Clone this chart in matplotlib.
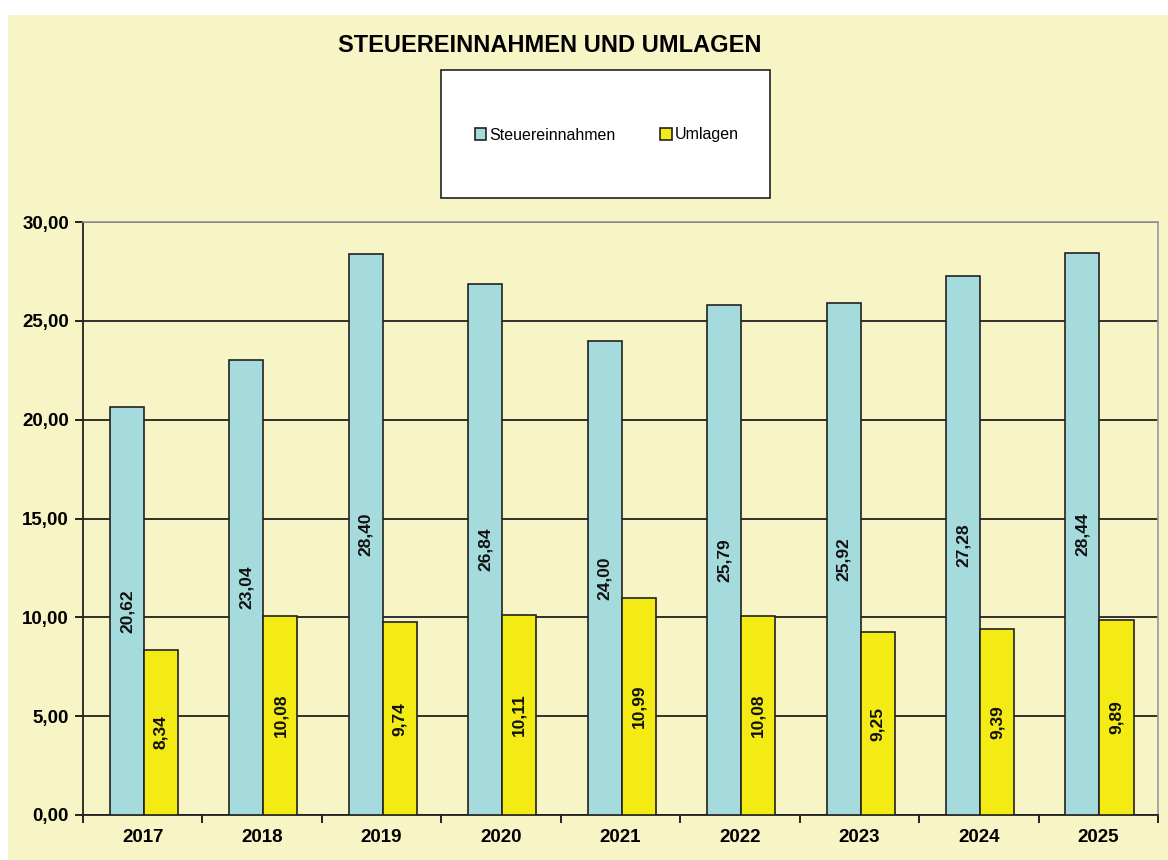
import numpy as np
import matplotlib
matplotlib.use('Agg')
import matplotlib.pyplot as plt
from matplotlib.patches import Rectangle

plt.rcParams['font.family'] = ['Liberation Sans', 'DejaVu Sans']

years = ['2017', '2018', '2019', '2020', '2021', '2022', '2023', '2024', '2025']
steuer = [20.62, 23.04, 28.40, 26.84, 24.00, 25.79, 25.92, 27.28, 28.44]
umlagen = [8.34, 10.08, 9.74, 10.11, 10.99, 10.08, 9.25, 9.39, 9.89]

bg = '#F7F5C6'
cyan = '#A5DBDD'
yellow = '#F4EA14'

fig = plt.figure(figsize=(11.68, 8.6), dpi=100, facecolor='white')
# yellow chart area (white strip at top and left)
fig.patches.append(Rectangle((8/1168, 0), 1 - 8/1168, 1 - 15/860, transform=fig.transFigure,
                             facecolor=bg, edgecolor='none', zorder=-10))

ax = fig.add_axes([83/1168, 45/860, 1075/1168, 593/860])
ax.set_facecolor(bg)

x = np.arange(len(years))
w = 0.285
b1 = ax.bar(x - w/2 + 0.01, steuer, w, color=cyan, edgecolor='#222222', linewidth=1.2,
            label='Steuereinnahmen', zorder=3)
b2 = ax.bar(x + w/2 + 0.01, umlagen, w, color=yellow, edgecolor='#222222', linewidth=1.2,
            label='Umlagen', zorder=3)

for bars, vals in ((b1, steuer), (b2, umlagen)):
    for r, v in zip(bars, vals):
        ax.text(r.get_x() + r.get_width()/2, v/2, f'{v:.2f}'.replace('.', ','),
                rotation=90, ha='center', va='center', fontsize=12.5,
                fontweight='bold', color='#111111', zorder=4)

ax.set_xlim(-0.5, len(years) - 0.5)
ax.set_ylim(0, 30)
ax.set_yticks(np.arange(0, 31, 5))
ax.set_yticklabels([f'{v:.2f}'.replace('.', ',') for v in np.arange(0, 31, 5)],
                   fontsize=13.5, fontweight='bold')
ax.set_xticks(x)
ax.set_xticklabels(years, fontsize=13.5, fontweight='bold')
ax.set_xticks(np.arange(-0.5, len(years)), minor=True)
ax.tick_params(axis='x', which='major', length=0, pad=10)
ax.tick_params(axis='x', which='minor', length=6, width=1.2, direction='out')
ax.tick_params(axis='y', length=6, width=1.2, pad=4)

ax.yaxis.grid(True, color='#222222', linewidth=1.3, zorder=0)
ax.set_axisbelow(True)
for s in ('top', 'right'):
    ax.spines[s].set_color('#999999')
    ax.spines[s].set_linewidth(1.2)
for s in ('left', 'bottom'):
    ax.spines[s].set_color('#222222')
    ax.spines[s].set_linewidth(1.3)

fig.text(550/1168, 1 - 45/860, 'STEUEREINNAHMEN UND UMLAGEN', ha='center', va='center',
         fontsize=17, fontweight='bold')

# legend box
fig.patches.append(Rectangle((441/1168, 1 - 198/860), 329/1168, 128/860, transform=fig.transFigure,
                             facecolor='white', edgecolor='#222222', linewidth=1.2, zorder=1))
leg = fig.legend(handles=[b1, b2], loc='center', bbox_to_anchor=(607/1168, 1 - 135/860),
                 ncol=2, frameon=False, fontsize=11.5, handlelength=0.7, handleheight=0.7,
                 handletextpad=0.2, columnspacing=2.8)

fig.savefig('out.png', dpi=100, facecolor=fig.get_facecolor())
